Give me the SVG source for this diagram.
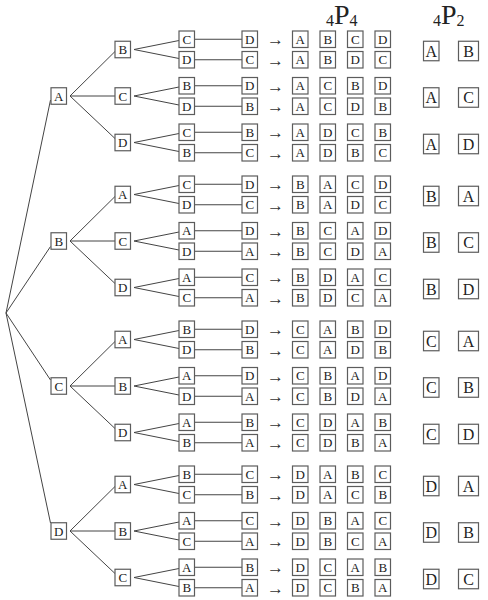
<svg xmlns="http://www.w3.org/2000/svg" width="488" height="600" viewBox="0 0 488 600">
<style>
rect{fill:#fff;stroke:#5c5c5c;stroke-width:1.2}
text{font-family:"Liberation Serif",serif;font-size:13px;fill:#222;text-anchor:middle}
.ar{font-size:17px;fill:#333}
.big{font-size:16px}
.hd{text-anchor:start}
.c path{stroke:#444;stroke-width:1;fill:none}
</style>
<rect x="0" y="0" width="488" height="600" style="stroke:none"/>
<g id="header">
<text class="hd" x="326" y="26"><tspan style="font-size:16px">4</tspan><tspan style="font-size:28px" dy="-2">P</tspan><tspan style="font-size:16px" dy="2">4</tspan></text>
<text class="hd" x="433" y="26"><tspan style="font-size:16px">4</tspan><tspan style="font-size:28px" dy="-2">P</tspan><tspan style="font-size:16px" dy="2">2</tspan></text>
</g>
<g class="c" id="connectors">
<path d="M6 313L50.5 100M6 313L50.5 246.5M6 313L50.5 380M6 313L50.5 523"/>
<g id="cA"><path d="M70 96L115 51.5M70 96L115 96M70 96L115 138.5M134 49.5L179 40.5M134 49.5L179 58.5M134 96L179 87M134 96L179 105M134 142.5L179 133.5M134 142.5L179 151.5M194.5 39.25H242M194.5 59.75H242M194.5 85.75H242M194.5 106.25H242M194.5 132.25H242M194.5 152.75H242"/></g>
<g id="cB" transform="translate(0,145)"><path d="M70 96L115 51.5M70 96L115 96M70 96L115 138.5M134 49.5L179 40.5M134 49.5L179 58.5M134 96L179 87M134 96L179 105M134 142.5L179 133.5M134 142.5L179 151.5M194.5 39.25H242M194.5 59.75H242M194.5 85.75H242M194.5 106.25H242M194.5 132.25H242M194.5 152.75H242"/></g>
<g id="cC" transform="translate(0,290)"><path d="M70 96L115 51.5M70 96L115 96M70 96L115 138.5M134 49.5L179 40.5M134 49.5L179 58.5M134 96L179 87M134 96L179 105M134 142.5L179 133.5M134 142.5L179 151.5M194.5 39.25H242M194.5 59.75H242M194.5 85.75H242M194.5 106.25H242M194.5 132.25H242M194.5 152.75H242"/></g>
<g id="cD" transform="translate(0,435)"><path d="M70 96L115 51.5M70 96L115 96M70 96L115 138.5M134 49.5L179 40.5M134 49.5L179 58.5M134 96L179 87M134 96L179 105M134 142.5L179 133.5M134 142.5L179 151.5M194.5 39.25H242M194.5 59.75H242M194.5 85.75H242M194.5 106.25H242M194.5 132.25H242M194.5 152.75H242"/></g>
</g>

<g id="groupA">
<g id="A"><rect x="51" y="87.75" width="15.5" height="16.5"/><text x="58.75" y="100.5">A</text></g>
<g id="AB"><rect x="115" y="41.25" width="15.5" height="16.5"/><text x="122.75" y="54">B</text></g>
<g id="AC"><rect x="115" y="87.75" width="15.5" height="16.5"/><text x="122.75" y="100.5">C</text></g>
<g id="AD"><rect x="115" y="134.25" width="15.5" height="16.5"/><text x="122.75" y="147">D</text></g>
<g id="ABC"><rect x="179" y="31" width="15.5" height="16.5"/><text x="186.75" y="43.75">C</text></g>
<g id="ABD"><rect x="179" y="51.5" width="15.5" height="16.5"/><text x="186.75" y="64.25">D</text></g>
<g id="ACB"><rect x="179" y="77.5" width="15.5" height="16.5"/><text x="186.75" y="90.25">B</text></g>
<g id="ACD"><rect x="179" y="98" width="15.5" height="16.5"/><text x="186.75" y="110.75">D</text></g>
<g id="ADC"><rect x="179" y="124" width="15.5" height="16.5"/><text x="186.75" y="136.75">C</text></g>
<g id="ADB"><rect x="179" y="144.5" width="15.5" height="16.5"/><text x="186.75" y="157.25">B</text></g>
<g id="ABCD"><rect x="242" y="31" width="15.5" height="16.5"/><text x="249.75" y="43.75">D</text></g>
<g id="ABDC"><rect x="242" y="51.5" width="15.5" height="16.5"/><text x="249.75" y="64.25">C</text></g>
<g id="ACBD"><rect x="242" y="77.5" width="15.5" height="16.5"/><text x="249.75" y="90.25">D</text></g>
<g id="ACDB"><rect x="242" y="98" width="15.5" height="16.5"/><text x="249.75" y="110.75">B</text></g>
<g id="ADCB"><rect x="242" y="124" width="15.5" height="16.5"/><text x="249.75" y="136.75">B</text></g>
<g id="ADBC"><rect x="242" y="144.5" width="15.5" height="16.5"/><text x="249.75" y="157.25">C</text></g>
<g id="arrowsA"><text class="ar" x="275.5" y="45">→</text><text class="ar" x="275.5" y="65.5">→</text><text class="ar" x="275.5" y="91.5">→</text><text class="ar" x="275.5" y="112">→</text><text class="ar" x="275.5" y="138">→</text><text class="ar" x="275.5" y="158.5">→</text></g>
<g id="pA1"><rect x="292.5" y="31" width="15.5" height="16.5"/><text x="300.25" y="43.75">A</text><rect x="320" y="31" width="15.5" height="16.5"/><text x="327.75" y="43.75">B</text><rect x="347.5" y="31" width="15.5" height="16.5"/><text x="355.25" y="43.75">C</text><rect x="375" y="31" width="15.5" height="16.5"/><text x="382.75" y="43.75">D</text></g>
<g id="pA2"><rect x="292.5" y="51.5" width="15.5" height="16.5"/><text x="300.25" y="64.25">A</text><rect x="320" y="51.5" width="15.5" height="16.5"/><text x="327.75" y="64.25">B</text><rect x="347.5" y="51.5" width="15.5" height="16.5"/><text x="355.25" y="64.25">D</text><rect x="375" y="51.5" width="15.5" height="16.5"/><text x="382.75" y="64.25">C</text></g>
<g id="pA3"><rect x="292.5" y="77.5" width="15.5" height="16.5"/><text x="300.25" y="90.25">A</text><rect x="320" y="77.5" width="15.5" height="16.5"/><text x="327.75" y="90.25">C</text><rect x="347.5" y="77.5" width="15.5" height="16.5"/><text x="355.25" y="90.25">B</text><rect x="375" y="77.5" width="15.5" height="16.5"/><text x="382.75" y="90.25">D</text></g>
<g id="pA4"><rect x="292.5" y="98" width="15.5" height="16.5"/><text x="300.25" y="110.75">A</text><rect x="320" y="98" width="15.5" height="16.5"/><text x="327.75" y="110.75">C</text><rect x="347.5" y="98" width="15.5" height="16.5"/><text x="355.25" y="110.75">D</text><rect x="375" y="98" width="15.5" height="16.5"/><text x="382.75" y="110.75">B</text></g>
<g id="pA5"><rect x="292.5" y="124" width="15.5" height="16.5"/><text x="300.25" y="136.75">A</text><rect x="320" y="124" width="15.5" height="16.5"/><text x="327.75" y="136.75">D</text><rect x="347.5" y="124" width="15.5" height="16.5"/><text x="355.25" y="136.75">C</text><rect x="375" y="124" width="15.5" height="16.5"/><text x="382.75" y="136.75">B</text></g>
<g id="pA6"><rect x="292.5" y="144.5" width="15.5" height="16.5"/><text x="300.25" y="157.25">A</text><rect x="320" y="144.5" width="15.5" height="16.5"/><text x="327.75" y="157.25">D</text><rect x="347.5" y="144.5" width="15.5" height="16.5"/><text x="355.25" y="157.25">B</text><rect x="375" y="144.5" width="15.5" height="16.5"/><text x="382.75" y="157.25">C</text></g>
<g id="qA1"><rect x="423.5" y="41.25" width="15.5" height="19.5"/><text class="big" x="431.25" y="56.5">A</text><rect x="458.5" y="41.25" width="20" height="19.5"/><text class="big" x="468.5" y="56.5">B</text></g>
<g id="qA2"><rect x="423.5" y="87.75" width="15.5" height="19.5"/><text class="big" x="431.25" y="103">A</text><rect x="458.5" y="87.75" width="20" height="19.5"/><text class="big" x="468.5" y="103">C</text></g>
<g id="qA3"><rect x="423.5" y="134.25" width="15.5" height="19.5"/><text class="big" x="431.25" y="149.5">A</text><rect x="458.5" y="134.25" width="20" height="19.5"/><text class="big" x="468.5" y="149.5">D</text></g>
</g>

<g id="groupB" transform="translate(0,145)">
<g id="B"><rect x="51" y="87.75" width="15.5" height="16.5"/><text x="58.75" y="100.5">B</text></g>
<g id="BA"><rect x="115" y="41.25" width="15.5" height="16.5"/><text x="122.75" y="54">A</text></g>
<g id="BC"><rect x="115" y="87.75" width="15.5" height="16.5"/><text x="122.75" y="100.5">C</text></g>
<g id="BD"><rect x="115" y="134.25" width="15.5" height="16.5"/><text x="122.75" y="147">D</text></g>
<g id="BAC"><rect x="179" y="31" width="15.5" height="16.5"/><text x="186.75" y="43.75">C</text></g>
<g id="BAD"><rect x="179" y="51.5" width="15.5" height="16.5"/><text x="186.75" y="64.25">D</text></g>
<g id="BCA"><rect x="179" y="77.5" width="15.5" height="16.5"/><text x="186.75" y="90.25">A</text></g>
<g id="BCD"><rect x="179" y="98" width="15.5" height="16.5"/><text x="186.75" y="110.75">D</text></g>
<g id="BDA"><rect x="179" y="124" width="15.5" height="16.5"/><text x="186.75" y="136.75">A</text></g>
<g id="BDC"><rect x="179" y="144.5" width="15.5" height="16.5"/><text x="186.75" y="157.25">C</text></g>
<g id="BACD"><rect x="242" y="31" width="15.5" height="16.5"/><text x="249.75" y="43.75">D</text></g>
<g id="BADC"><rect x="242" y="51.5" width="15.5" height="16.5"/><text x="249.75" y="64.25">C</text></g>
<g id="BCAD"><rect x="242" y="77.5" width="15.5" height="16.5"/><text x="249.75" y="90.25">D</text></g>
<g id="BCDA"><rect x="242" y="98" width="15.5" height="16.5"/><text x="249.75" y="110.75">A</text></g>
<g id="BDAC"><rect x="242" y="124" width="15.5" height="16.5"/><text x="249.75" y="136.75">C</text></g>
<g id="BDCA"><rect x="242" y="144.5" width="15.5" height="16.5"/><text x="249.75" y="157.25">A</text></g>
<g id="arrowsB"><text class="ar" x="275.5" y="45">→</text><text class="ar" x="275.5" y="65.5">→</text><text class="ar" x="275.5" y="91.5">→</text><text class="ar" x="275.5" y="112">→</text><text class="ar" x="275.5" y="138">→</text><text class="ar" x="275.5" y="158.5">→</text></g>
<g id="pB1"><rect x="292.5" y="31" width="15.5" height="16.5"/><text x="300.25" y="43.75">B</text><rect x="320" y="31" width="15.5" height="16.5"/><text x="327.75" y="43.75">A</text><rect x="347.5" y="31" width="15.5" height="16.5"/><text x="355.25" y="43.75">C</text><rect x="375" y="31" width="15.5" height="16.5"/><text x="382.75" y="43.75">D</text></g>
<g id="pB2"><rect x="292.5" y="51.5" width="15.5" height="16.5"/><text x="300.25" y="64.25">B</text><rect x="320" y="51.5" width="15.5" height="16.5"/><text x="327.75" y="64.25">A</text><rect x="347.5" y="51.5" width="15.5" height="16.5"/><text x="355.25" y="64.25">D</text><rect x="375" y="51.5" width="15.5" height="16.5"/><text x="382.75" y="64.25">C</text></g>
<g id="pB3"><rect x="292.5" y="77.5" width="15.5" height="16.5"/><text x="300.25" y="90.25">B</text><rect x="320" y="77.5" width="15.5" height="16.5"/><text x="327.75" y="90.25">C</text><rect x="347.5" y="77.5" width="15.5" height="16.5"/><text x="355.25" y="90.25">A</text><rect x="375" y="77.5" width="15.5" height="16.5"/><text x="382.75" y="90.25">D</text></g>
<g id="pB4"><rect x="292.5" y="98" width="15.5" height="16.5"/><text x="300.25" y="110.75">B</text><rect x="320" y="98" width="15.5" height="16.5"/><text x="327.75" y="110.75">C</text><rect x="347.5" y="98" width="15.5" height="16.5"/><text x="355.25" y="110.75">D</text><rect x="375" y="98" width="15.5" height="16.5"/><text x="382.75" y="110.75">A</text></g>
<g id="pB5"><rect x="292.5" y="124" width="15.5" height="16.5"/><text x="300.25" y="136.75">B</text><rect x="320" y="124" width="15.5" height="16.5"/><text x="327.75" y="136.75">D</text><rect x="347.5" y="124" width="15.5" height="16.5"/><text x="355.25" y="136.75">A</text><rect x="375" y="124" width="15.5" height="16.5"/><text x="382.75" y="136.75">C</text></g>
<g id="pB6"><rect x="292.5" y="144.5" width="15.5" height="16.5"/><text x="300.25" y="157.25">B</text><rect x="320" y="144.5" width="15.5" height="16.5"/><text x="327.75" y="157.25">D</text><rect x="347.5" y="144.5" width="15.5" height="16.5"/><text x="355.25" y="157.25">C</text><rect x="375" y="144.5" width="15.5" height="16.5"/><text x="382.75" y="157.25">A</text></g>
<g id="qB1"><rect x="423.5" y="41.25" width="15.5" height="19.5"/><text class="big" x="431.25" y="56.5">B</text><rect x="458.5" y="41.25" width="20" height="19.5"/><text class="big" x="468.5" y="56.5">A</text></g>
<g id="qB2"><rect x="423.5" y="87.75" width="15.5" height="19.5"/><text class="big" x="431.25" y="103">B</text><rect x="458.5" y="87.75" width="20" height="19.5"/><text class="big" x="468.5" y="103">C</text></g>
<g id="qB3"><rect x="423.5" y="134.25" width="15.5" height="19.5"/><text class="big" x="431.25" y="149.5">B</text><rect x="458.5" y="134.25" width="20" height="19.5"/><text class="big" x="468.5" y="149.5">D</text></g>
</g>

<g id="groupC" transform="translate(0,290)">
<g id="C"><rect x="51" y="87.75" width="15.5" height="16.5"/><text x="58.75" y="100.5">C</text></g>
<g id="CA"><rect x="115" y="41.25" width="15.5" height="16.5"/><text x="122.75" y="54">A</text></g>
<g id="CB"><rect x="115" y="87.75" width="15.5" height="16.5"/><text x="122.75" y="100.5">B</text></g>
<g id="CD"><rect x="115" y="134.25" width="15.5" height="16.5"/><text x="122.75" y="147">D</text></g>
<g id="CAB"><rect x="179" y="31" width="15.5" height="16.5"/><text x="186.75" y="43.75">B</text></g>
<g id="CAD"><rect x="179" y="51.5" width="15.5" height="16.5"/><text x="186.75" y="64.25">D</text></g>
<g id="CBA"><rect x="179" y="77.5" width="15.5" height="16.5"/><text x="186.75" y="90.25">A</text></g>
<g id="CBD"><rect x="179" y="98" width="15.5" height="16.5"/><text x="186.75" y="110.75">D</text></g>
<g id="CDA"><rect x="179" y="124" width="15.5" height="16.5"/><text x="186.75" y="136.75">A</text></g>
<g id="CDB"><rect x="179" y="144.5" width="15.5" height="16.5"/><text x="186.75" y="157.25">B</text></g>
<g id="CABD"><rect x="242" y="31" width="15.5" height="16.5"/><text x="249.75" y="43.75">D</text></g>
<g id="CADB"><rect x="242" y="51.5" width="15.5" height="16.5"/><text x="249.75" y="64.25">B</text></g>
<g id="CBAD"><rect x="242" y="77.5" width="15.5" height="16.5"/><text x="249.75" y="90.25">D</text></g>
<g id="CBDA"><rect x="242" y="98" width="15.5" height="16.5"/><text x="249.75" y="110.75">A</text></g>
<g id="CDAB"><rect x="242" y="124" width="15.5" height="16.5"/><text x="249.75" y="136.75">B</text></g>
<g id="CDBA"><rect x="242" y="144.5" width="15.5" height="16.5"/><text x="249.75" y="157.25">A</text></g>
<g id="arrowsC"><text class="ar" x="275.5" y="45">→</text><text class="ar" x="275.5" y="65.5">→</text><text class="ar" x="275.5" y="91.5">→</text><text class="ar" x="275.5" y="112">→</text><text class="ar" x="275.5" y="138">→</text><text class="ar" x="275.5" y="158.5">→</text></g>
<g id="pC1"><rect x="292.5" y="31" width="15.5" height="16.5"/><text x="300.25" y="43.75">C</text><rect x="320" y="31" width="15.5" height="16.5"/><text x="327.75" y="43.75">A</text><rect x="347.5" y="31" width="15.5" height="16.5"/><text x="355.25" y="43.75">B</text><rect x="375" y="31" width="15.5" height="16.5"/><text x="382.75" y="43.75">D</text></g>
<g id="pC2"><rect x="292.5" y="51.5" width="15.5" height="16.5"/><text x="300.25" y="64.25">C</text><rect x="320" y="51.5" width="15.5" height="16.5"/><text x="327.75" y="64.25">A</text><rect x="347.5" y="51.5" width="15.5" height="16.5"/><text x="355.25" y="64.25">D</text><rect x="375" y="51.5" width="15.5" height="16.5"/><text x="382.75" y="64.25">B</text></g>
<g id="pC3"><rect x="292.5" y="77.5" width="15.5" height="16.5"/><text x="300.25" y="90.25">C</text><rect x="320" y="77.5" width="15.5" height="16.5"/><text x="327.75" y="90.25">B</text><rect x="347.5" y="77.5" width="15.5" height="16.5"/><text x="355.25" y="90.25">A</text><rect x="375" y="77.5" width="15.5" height="16.5"/><text x="382.75" y="90.25">D</text></g>
<g id="pC4"><rect x="292.5" y="98" width="15.5" height="16.5"/><text x="300.25" y="110.75">C</text><rect x="320" y="98" width="15.5" height="16.5"/><text x="327.75" y="110.75">B</text><rect x="347.5" y="98" width="15.5" height="16.5"/><text x="355.25" y="110.75">D</text><rect x="375" y="98" width="15.5" height="16.5"/><text x="382.75" y="110.75">A</text></g>
<g id="pC5"><rect x="292.5" y="124" width="15.5" height="16.5"/><text x="300.25" y="136.75">C</text><rect x="320" y="124" width="15.5" height="16.5"/><text x="327.75" y="136.75">D</text><rect x="347.5" y="124" width="15.5" height="16.5"/><text x="355.25" y="136.75">A</text><rect x="375" y="124" width="15.5" height="16.5"/><text x="382.75" y="136.75">B</text></g>
<g id="pC6"><rect x="292.5" y="144.5" width="15.5" height="16.5"/><text x="300.25" y="157.25">C</text><rect x="320" y="144.5" width="15.5" height="16.5"/><text x="327.75" y="157.25">D</text><rect x="347.5" y="144.5" width="15.5" height="16.5"/><text x="355.25" y="157.25">B</text><rect x="375" y="144.5" width="15.5" height="16.5"/><text x="382.75" y="157.25">A</text></g>
<g id="qC1"><rect x="423.5" y="41.25" width="15.5" height="19.5"/><text class="big" x="431.25" y="56.5">C</text><rect x="458.5" y="41.25" width="20" height="19.5"/><text class="big" x="468.5" y="56.5">A</text></g>
<g id="qC2"><rect x="423.5" y="87.75" width="15.5" height="19.5"/><text class="big" x="431.25" y="103">C</text><rect x="458.5" y="87.75" width="20" height="19.5"/><text class="big" x="468.5" y="103">B</text></g>
<g id="qC3"><rect x="423.5" y="134.25" width="15.5" height="19.5"/><text class="big" x="431.25" y="149.5">C</text><rect x="458.5" y="134.25" width="20" height="19.5"/><text class="big" x="468.5" y="149.5">D</text></g>
</g>

<g id="groupD" transform="translate(0,435)">
<g id="D"><rect x="51" y="87.75" width="15.5" height="16.5"/><text x="58.75" y="100.5">D</text></g>
<g id="DA"><rect x="115" y="41.25" width="15.5" height="16.5"/><text x="122.75" y="54">A</text></g>
<g id="DB"><rect x="115" y="87.75" width="15.5" height="16.5"/><text x="122.75" y="100.5">B</text></g>
<g id="DC"><rect x="115" y="134.25" width="15.5" height="16.5"/><text x="122.75" y="147">C</text></g>
<g id="DAB"><rect x="179" y="31" width="15.5" height="16.5"/><text x="186.75" y="43.75">B</text></g>
<g id="DAC"><rect x="179" y="51.5" width="15.5" height="16.5"/><text x="186.75" y="64.25">C</text></g>
<g id="DBA"><rect x="179" y="77.5" width="15.5" height="16.5"/><text x="186.75" y="90.25">A</text></g>
<g id="DBC"><rect x="179" y="98" width="15.5" height="16.5"/><text x="186.75" y="110.75">C</text></g>
<g id="DCA"><rect x="179" y="124" width="15.5" height="16.5"/><text x="186.75" y="136.75">A</text></g>
<g id="DCB"><rect x="179" y="144.5" width="15.5" height="16.5"/><text x="186.75" y="157.25">B</text></g>
<g id="DABC"><rect x="242" y="31" width="15.5" height="16.5"/><text x="249.75" y="43.75">C</text></g>
<g id="DACB"><rect x="242" y="51.5" width="15.5" height="16.5"/><text x="249.75" y="64.25">B</text></g>
<g id="DBAC"><rect x="242" y="77.5" width="15.5" height="16.5"/><text x="249.75" y="90.25">C</text></g>
<g id="DBCA"><rect x="242" y="98" width="15.5" height="16.5"/><text x="249.75" y="110.75">A</text></g>
<g id="DCAB"><rect x="242" y="124" width="15.5" height="16.5"/><text x="249.75" y="136.75">B</text></g>
<g id="DCBA"><rect x="242" y="144.5" width="15.5" height="16.5"/><text x="249.75" y="157.25">A</text></g>
<g id="arrowsD"><text class="ar" x="275.5" y="45">→</text><text class="ar" x="275.5" y="65.5">→</text><text class="ar" x="275.5" y="91.5">→</text><text class="ar" x="275.5" y="112">→</text><text class="ar" x="275.5" y="138">→</text><text class="ar" x="275.5" y="158.5">→</text></g>
<g id="pD1"><rect x="292.5" y="31" width="15.5" height="16.5"/><text x="300.25" y="43.75">D</text><rect x="320" y="31" width="15.5" height="16.5"/><text x="327.75" y="43.75">A</text><rect x="347.5" y="31" width="15.5" height="16.5"/><text x="355.25" y="43.75">B</text><rect x="375" y="31" width="15.5" height="16.5"/><text x="382.75" y="43.75">C</text></g>
<g id="pD2"><rect x="292.5" y="51.5" width="15.5" height="16.5"/><text x="300.25" y="64.25">D</text><rect x="320" y="51.5" width="15.5" height="16.5"/><text x="327.75" y="64.25">A</text><rect x="347.5" y="51.5" width="15.5" height="16.5"/><text x="355.25" y="64.25">C</text><rect x="375" y="51.5" width="15.5" height="16.5"/><text x="382.75" y="64.25">B</text></g>
<g id="pD3"><rect x="292.5" y="77.5" width="15.5" height="16.5"/><text x="300.25" y="90.25">D</text><rect x="320" y="77.5" width="15.5" height="16.5"/><text x="327.75" y="90.25">B</text><rect x="347.5" y="77.5" width="15.5" height="16.5"/><text x="355.25" y="90.25">A</text><rect x="375" y="77.5" width="15.5" height="16.5"/><text x="382.75" y="90.25">C</text></g>
<g id="pD4"><rect x="292.5" y="98" width="15.5" height="16.5"/><text x="300.25" y="110.75">D</text><rect x="320" y="98" width="15.5" height="16.5"/><text x="327.75" y="110.75">B</text><rect x="347.5" y="98" width="15.5" height="16.5"/><text x="355.25" y="110.75">C</text><rect x="375" y="98" width="15.5" height="16.5"/><text x="382.75" y="110.75">A</text></g>
<g id="pD5"><rect x="292.5" y="124" width="15.5" height="16.5"/><text x="300.25" y="136.75">D</text><rect x="320" y="124" width="15.5" height="16.5"/><text x="327.75" y="136.75">C</text><rect x="347.5" y="124" width="15.5" height="16.5"/><text x="355.25" y="136.75">A</text><rect x="375" y="124" width="15.5" height="16.5"/><text x="382.75" y="136.75">B</text></g>
<g id="pD6"><rect x="292.5" y="144.5" width="15.5" height="16.5"/><text x="300.25" y="157.25">D</text><rect x="320" y="144.5" width="15.5" height="16.5"/><text x="327.75" y="157.25">C</text><rect x="347.5" y="144.5" width="15.5" height="16.5"/><text x="355.25" y="157.25">B</text><rect x="375" y="144.5" width="15.5" height="16.5"/><text x="382.75" y="157.25">A</text></g>
<g id="qD1"><rect x="423.5" y="41.25" width="15.5" height="19.5"/><text class="big" x="431.25" y="56.5">D</text><rect x="458.5" y="41.25" width="20" height="19.5"/><text class="big" x="468.5" y="56.5">A</text></g>
<g id="qD2"><rect x="423.5" y="87.75" width="15.5" height="19.5"/><text class="big" x="431.25" y="103">D</text><rect x="458.5" y="87.75" width="20" height="19.5"/><text class="big" x="468.5" y="103">B</text></g>
<g id="qD3"><rect x="423.5" y="134.25" width="15.5" height="19.5"/><text class="big" x="431.25" y="149.5">D</text><rect x="458.5" y="134.25" width="20" height="19.5"/><text class="big" x="468.5" y="149.5">C</text></g>
</g>
</svg>
